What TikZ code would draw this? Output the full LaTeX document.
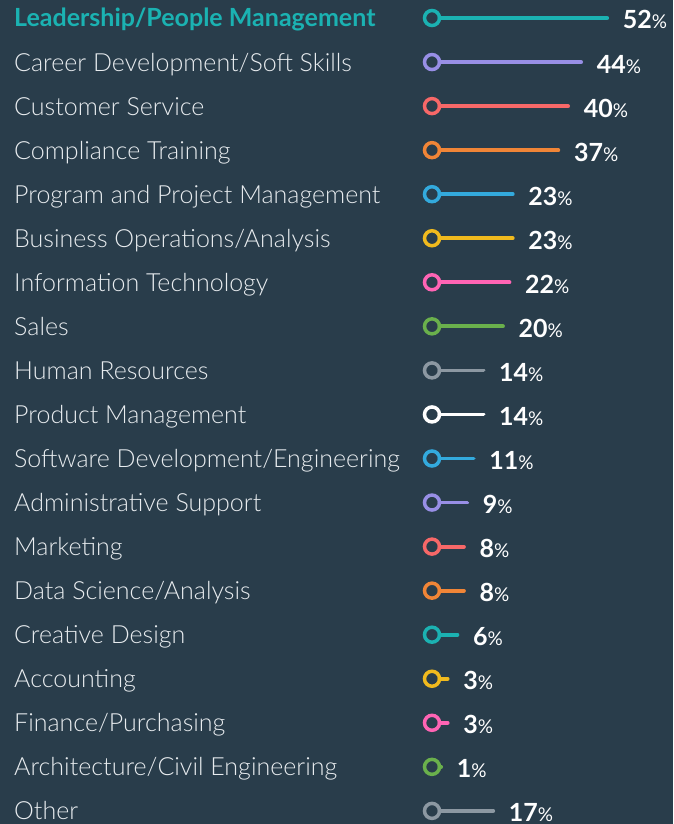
\documentclass[tikz,border=0pt]{standalone}
\usepackage{fontspec}
\setmainfont{Lato}[Extension=.ttf, UprightFont=*-Light, BoldFont=*-Bold]
\newfontfamily\pcfont{Lato}[Extension=.ttf, UprightFont=*-Regular, BoldFont=*-Bold]
\definecolor{bg}{RGB}{41,61,75}
\definecolor{txt}{RGB}{232,236,239}
\definecolor{cteal}{RGB}{27,178,178}
\definecolor{cpurple}{RGB}{152,143,230}
\definecolor{ccoral}{RGB}{247,104,104}
\definecolor{corange}{RGB}{240,133,55}
\definecolor{cblue}{RGB}{51,170,221}
\definecolor{cyellow}{RGB}{240,186,30}
\definecolor{cpink}{RGB}{255,100,180}
\definecolor{cgreen}{RGB}{106,176,76}
\definecolor{cgrey}{RGB}{140,152,162}
\definecolor{cwhite}{RGB}{255,255,255}
\tikzset{
  lab/.style={text=txt, inner sep=0pt, font=\fontsize{25}{28}\selectfont},
  ring/.style={circle, line width=3.5pt, minimum size=15pt, inner sep=0pt, outer sep=0pt},
  barline/.style={line width=3.8pt, line cap=round},
  num/.style={text=white, inner sep=0pt, font=\fontsize{25}{28}\selectfont\bfseries},
}
\newcommand\pcsign{{\pcfont\fontsize{19}{21}\selectfont\mdseries\%}}
\newcommand\mybarrow[5][]{%
  \pgfmathsetmacro\yy{18+44.05*(#2-1)}%
  \pgfmathsetmacro\xe{437.9+3.255*#4}%
  \node[lab, anchor=base west, #1] (l#2) at (14,\yy+9) {#3};
  \node[ring, draw=#5] (c#2) at (432,\yy) {};
  \coordinate (e#2) at (\xe,\yy);
  \draw[barline, draw=#5] (c#2.east) -- (e#2);
  \node[num, anchor=base west] (p#2) at (\xe+15.5,\yy+11) {#4\pcsign};
}
\begin{document}
\begin{tikzpicture}[x=1pt, y=-1pt]
\fill[bg] (0,0) rectangle (673,824);
\useasboundingbox (0,0) rectangle (673,824);
\mybarrow[text=cteal, font=\fontsize{25}{28}\selectfont\bfseries]{1}{Leadership/People Management}{52}{cteal}
\mybarrow{2}{Career Development/Soft Skills}{44}{cpurple}
\mybarrow{3}{Customer Service}{40}{ccoral}
\mybarrow{4}{Compliance Training}{37}{corange}
\mybarrow{5}{Program and Project Management}{23}{cblue}
\mybarrow{6}{Business Operations/Analysis}{23}{cyellow}
\mybarrow{7}{Information Technology}{22}{cpink}
\mybarrow{8}{Sales}{20}{cgreen}
\mybarrow{9}{Human Resources}{14}{cgrey}
\mybarrow{10}{Product Management}{14}{cwhite}
\mybarrow{11}{Software Development/Engineering}{11}{cblue}
\mybarrow{12}{Administrative Support}{9}{cpurple}
\mybarrow{13}{Marketing}{8}{ccoral}
\mybarrow{14}{Data Science/Analysis}{8}{corange}
\mybarrow{15}{Creative Design}{6}{cteal}
\mybarrow{16}{Accounting}{3}{cyellow}
\mybarrow{17}{Finance/Purchasing}{3}{cpink}
\mybarrow{18}{Architecture/Civil Engineering}{1}{cgreen}
\mybarrow{19}{Other}{17}{cgrey}
\end{tikzpicture}
\end{document}
